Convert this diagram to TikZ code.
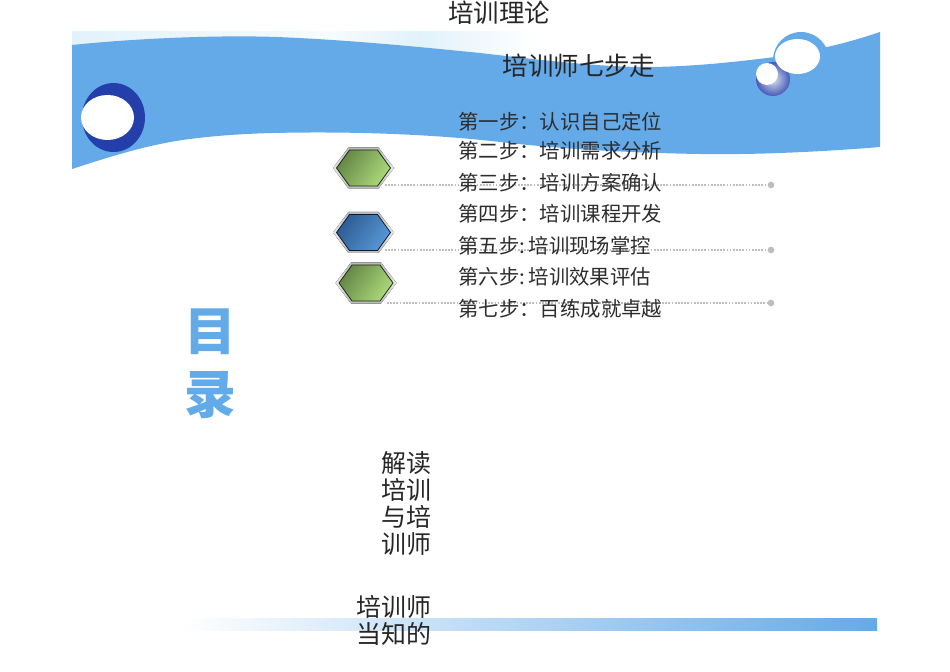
\documentclass[tikz,border=0pt]{standalone}
\usepackage{fontspec}
\setmainfont{Noto Sans CJK SC}
\usetikzlibrary{calc}
\definecolor{bandblue}{RGB}{100,170,232}
\definecolor{ringblue}{RGB}{36,62,170}
\definecolor{titleblue}{RGB}{98,170,232}
\definecolor{palestrip}{RGB}{226,242,251}
\definecolor{dotgray}{RGB}{190,190,190}
\definecolor{inkdark}{RGB}{45,45,45}
\definecolor{greenA}{RGB}{100,134,70}
\definecolor{greenB}{RGB}{172,218,122}
\definecolor{blueA}{RGB}{44,92,146}
\definecolor{blueB}{RGB}{88,152,214}
\tikzset{
  steptext/.style={anchor=west,inner sep=0pt,font=\fontsize{11.6pt}{14pt}\selectfont,text=inkdark},
  headtext/.style={inner sep=0pt,font=\fontsize{14.5pt}{17pt}\selectfont,text=black!85},
  sidetext/.style={anchor=north east,inner sep=0pt,align=right,font=\fontsize{14.2pt}{15.35pt}\selectfont,text=black!85},
  dotline/.style={dotgray,line width=1.3pt,dash pattern=on 1pt off 0.8pt},
  enddot/.style={circle,fill=dotgray,inner sep=0pt,minimum size=3.8pt}
}
\newcommand{\hexa}[5]{%
  \node[inner sep=0pt,minimum width=1.2cm,minimum height=0.8cm] (#1) at (#2,#3) {};
  \fill[top color=black!28,bottom color=black!28,middle color=black!10]
    (#2-30.5,#3) -- (#2-15,#3-20.5) -- (#2+15,#3-20.5) -- (#2+30.5,#3) -- (#2+15,#3+20.5) -- (#2-15,#3+20.5) -- cycle;
  \draw[black!70!#4,line width=0.45pt,left color=#4,right color=#5,shading angle=55]
    (#2-27,#3) -- (#2-14,#3-18) -- (#2+14,#3-18) -- (#2+27,#3) -- (#2+14,#3+18) -- (#2-14,#3+18) -- cycle;
}
\begin{document}
\begin{tikzpicture}[x=0.02cm,y=-0.02cm]
\useasboundingbox (0,0) rectangle (950,672);
% pale strip above the band
\fill[left color=palestrip,right color=white!70!palestrip] (72,32) rectangle (330,50);
\fill[left color=white!70!palestrip,right color=palestrip] (330,32) rectangle (420,62);
\fill[left color=palestrip,right color=white] (420,32) rectangle (540,62);
% band
\fill[bandblue] (72,45)
  .. controls (140,38) and (220,35) .. (277,37)
  .. controls (350,40) and (420,47) .. (480,53)
  .. controls (540,60) and (600,67) .. (645,67)
  .. controls (690,67) and (735,62) .. (775,57)
  -- (827,47)
  .. controls (845,43) and (862,38) .. (880,32)
  -- (880,147)
  .. controls (820,152) and (750,155) .. (700,154)
  .. controls (640,153) and (570,150) .. (500,142)
  .. controls (440,135) and (360,131) .. (273,133)
  .. controls (230,134) and (190,138) .. (165,143)
  .. controls (130,150) and (100,160) .. (72,169)
  -- cycle;
\begin{scope}
  \clip (770,32) rectangle (830,80);
  \fill[bandblue] (801,60) circle[radius=28];
\end{scope}
% left ring
\fill[ringblue] (113.5,117.5) ellipse[x radius=31.5,y radius=34.5];
\fill[white] (107.5,117.5) ellipse[x radius=26.5,y radius=22.5];
% right ornaments
\shade[inner color=white!85!ringblue,outer color=ringblue!85] (773,79) circle[radius=17];
\fill[white] (767,74) circle[radius=11];
\fill[white] (797.5,56.5) ellipse[x radius=22.5,y radius=17.5];
% bottom gradient bar
\fill[left color=white,right color=bandblue] (180,618) rectangle (877,630);
% hexagons
\hexa{hexa}{363.5}{168}{greenA}{greenB}
\hexa{hexb}{363.5}{232.5}{blueA}{blueB}
\hexa{hexc}{366}{283}{greenA}{greenB}
% dotted leaders
\node[enddot] (enda) at (771,185) {};
\node[enddot] (endb) at (771,250) {};
\node[enddot] (endc) at (771,303) {};
\coordinate (sta) at (385,185);
\coordinate (stb) at (385,250);
\coordinate (stc) at (387,303);
\draw[dotline] (sta) -- (enda);
\draw[dotline] (stb) -- (endb);
\draw[dotline] (stc) -- (endc);
% texts
\node[headtext] (theory) at (499,12.5) {培训理论};
\node[headtext] (seven) at (579,65.5) {培训师七步走};
\node[steptext] (s1) at (458,122) {第一步：认识自己定位};
\node[steptext] (s2) at (458,151) {第二步：培训需求分析};
\node[steptext] (s3) at (458,183) {第三步：培训方案确认};
\node[steptext] (s4) at (458,214) {第四步：培训课程开发};
\node[steptext] (s5) at (458,246) {第五步:\hspace{2pt}培训现场掌控};
\node[steptext] (s6) at (458,277) {第六步:\hspace{2pt}培训效果评估};
\node[steptext] (s7) at (458,309) {第七步：百练成就卓越};
\node[anchor=north,inner sep=0pt,align=center,text=titleblue,font=\fontsize{29.5pt}{36pt}\selectfont\bfseries] (mulu) at (210,308) {目\\录};
\node[sidetext] (jd) at (432,451) {解读\\培训\\与培\\训师};
\node[sidetext] (dz) at (432,595) {培训师\\当知的};
\end{tikzpicture}
\end{document}
